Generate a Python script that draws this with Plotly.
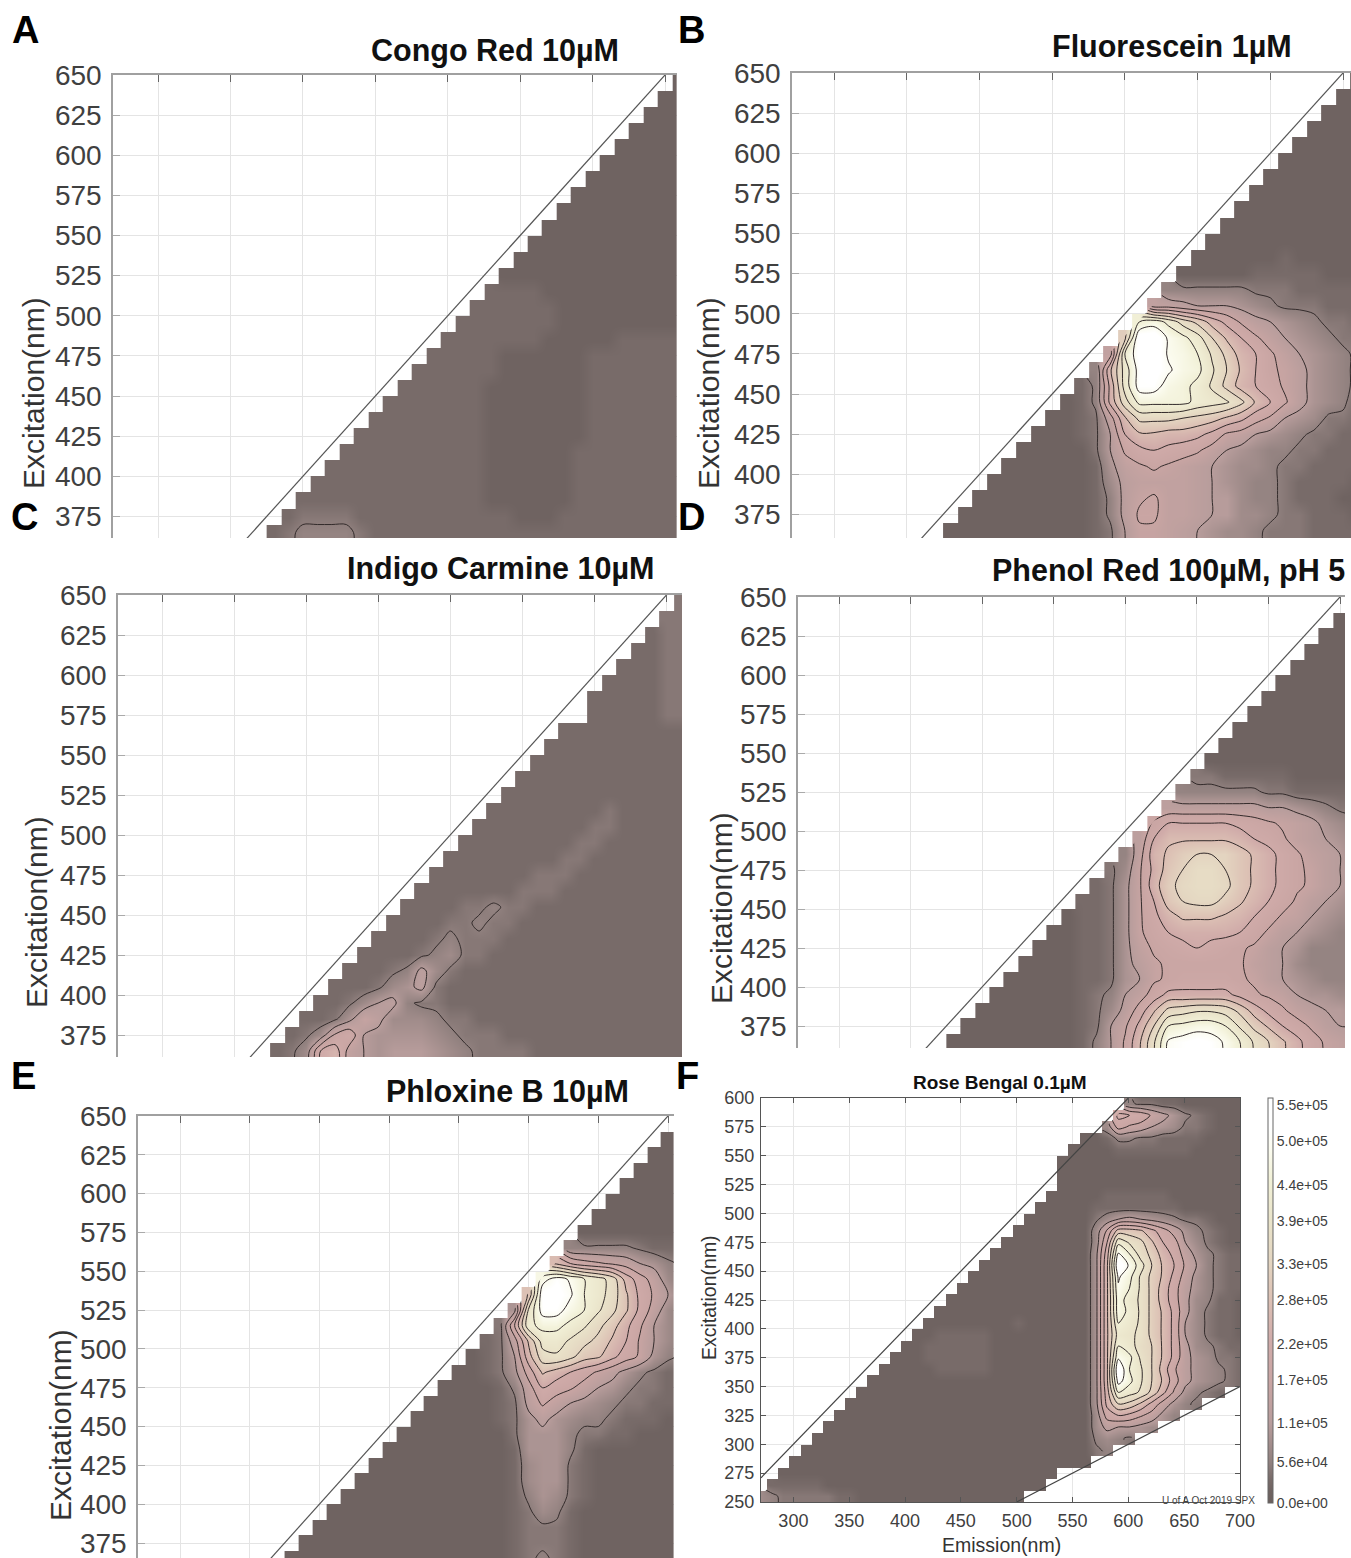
import plotly.graph_objects as go

W, H = 1351, 1558
UNIT = 5.5e5 / 35          # one base-36 digit of the tables below
ZMAX = 5.6e5

# Values are read off the picture as base-36 digits (0-z), "." = no data.
# Columns of panels A-E: emission 380..660 in 10 nm steps, rows right-aligned.
# Groups: 380-410 | 420-460 | 470-510 | 520-560 | 570-610 | 620-660
EM_AE = list(range(380, 670, 10))
EX_AE = list(range(645, 355, -10))

CONGO = ["1", "11", "111", "1111", "11111", "1 11111", "11 11111", "111 11111", "1111 11111", "11111 11111",
         "1 11111 11111", "11 11111 11111", "111 11111 11111", "2222 11111 11111", "22222 21111 11111",
         "2 22222 21111 11111", "22 22222 11111 22222", "222 22111 11122 22222", "2222 22111 11122 22222",
         "22222 21111 11122 22222", "2 22222 21111 11122 22222", "22 22222 21111 11122 22222",
         "222 22222 21111 11122 22222", "2222 22222 21111 11222 22222", "22222 22222 21111 11222 22222",
         "2 22222 22222 21111 11222 22222", "22 22222 22222 21111 11222 22222",
         "233 33222 22222 22211 12222 22222", "2344 44322 22222 22222 22222 22222"]

FLUOR = ["1", "11", "111", "1111", "11111", "1 11111", "11 11111", "111 11111", "1111 11111", "11111 11111",
         "1 11111 11111", "11 11112 11111", "111 11222 22111", "4444 44333 22222", "99877 76543 33222",
         "s urnkg da876 54332", "kz zvtql heb97 65433", "9sy zvuso kgeb9 76543", "4hqx ywutp lheba 86543",
         "24fqx xutro kgeca 86543", "1 24fnt tttrq pmheb 86542", "11 239hm mmlkj hfca7 65332",
         "111 237eh hggfd a9765 43322", "1111 137bd edcb9 76544 33222", "11111 1269a ba987 65543 32222",
         "1 11111 12589 99987 65443 22221", "11 11111 1248a b9987 75443 22211",
         "111 11111 1248b b9987 75543 32221", "1111 11111 1237a a9876 55433 32222"]

INDIGO = ["3", "33", "233", "2233", "22233", "2 22233", "22 22233", ".22 22233", "2222 22222", "22222 22222",
          "2 22222 22222", "22 22222 22222", "222 22222 22222", "2222 22223 22222", "22222 22233 22222",
          "2 22222 22332 22222", "22 22222 23322 22222", "222 22223 33222 22222", "2222 22233 32222 22222",
          "22223 33332 22222 22222", "2 22233 43322 22222 22222", "22 22343 33222 22222 22222",
          "222 23453 32222 22222 22222", "2223 48532 22222 22222 22222", "22235 68322 22222 22222 22222",
          "2 23578 43322 22222 22222 22222", "22 36a85 55433 22222 22222 22222",
          "235 bd766 66543 33222 22222 22222", "235e g9767 77654 33332 22222 22222"]
INDIGO[19] = "22223 34332 22222 22222"

PHENOL = ["1", "11", "111", "1111", "11111", "1 11111", "11 11111", "111 11111", "1111 11111", "11111 11111",
          "1 11111 11111", "33 22222 11111", "444 44433 22222", "8888 88877 65433", "beeee edcba 98654",
          "8 ehhhh hgedb 98765", "49 gikll ljhfd b9875", "35a fjlnn ljhfd ba876", "236a gkmnn mjhfd ba876",
          "2236a ejlmm kigec a8765", "1 2236a dgiii hgeca 97655", "11 2236a cefff feca8 76544",
          "111 22369 bcded cba87 64444", "1111 22368 abbbb bb987 54444", "11111 22367 abccc cba87 65444",
          "1 11111 23479 cffff fdba9 76655", "11 11111 2358c hmnoo nkgdb 98776",
          "111 11111 237af lstuu sokhe ca877", "1111 11111 247bh owxyx vsoli fca98"]

PHLOXINE = ["1", "11", "111", "1111", "11111", "1 11111", "11 11111", "111 11111", "4444 43222", "hecba 97643",
            "u xvsqn gc953", "iy ywsqn ida74", "6px xuspm id953", "3ert trpmj fb753", "239iq qomkh ea753",
            "1 237gn omjif ca643", "11 236ci geca8 64322", "111 1249e cb976 43322", "1111 1238b 97654 33222",
            "11111 12368 65443 22211", "1 11111 11366 64332 21111", "11 11111 11266 64211 11111",
            "111 11111 11256 63211 11111", "1111 11111 11256 63211 11111", "11111 11111 11246 53211 11111",
            "1 11111 11111 11235 42111 11111", "11 11111 11111 11233 32111 11111",
            "111 11111 11111 11233 32111 11111", "1111 11111 11111 11234 32111 11111"]

# Panel F: emission 271..701, excitation 605..255, rows right-aligned.
# Groups: 271-301 | 311-351 | 361-401 | 411-451 | 461-501 | 511-551 | 561-601 | 611-651 | 661-701
EM_F = list(range(271, 711, 10))
EX_F = list(range(605, 245, -10))
ROSE = ["11111 11111", "4 33221 11111", "fe da864 32111", "5ca 97653 32111", "11244 33222 21111",
        "1 11122 22222 11111", "11 11111 11111 11111", "11 11111 11111 11111", "11 11111 11111 11111",
        "111 11222 22211 11111", "1111 12222 22221 11111", "11111 13578 76543 32111",
        "1 11111 15bjj ifc96 43211", "11 11111 15ero miec7 53211", "111 11111 16gws nkgd9 64322",
        "1111 11111 16hzv qlhea 74322", "11111 11111 16hwt okhd9 64322", "1 11111 11111 16hvs okgc8 64322",
        "11 11111 11111 16huq okgc8 54221", "111 11111 11111 16hur okhd8 53221",
        "1111 11112 11111 16hsq okhd7 53221", "11222 22111 11111 16hqp okhd7 53221",
        "1 12222 22111 11111 16hsq nlhd8 54322", "11 12222 22111 11111 16hvt olhd8 65332",
        "111 11222 22111 11111 16hzs plgb8 65432", "1111 11111 11111 11111 16hxt plhc8 65432",
        "11111 11111 11111 11111 16gsq okfa6 432..", "1 11111 11111 11111 11111 16flk hd964 3....",
        "11 11111 11111 11111 11111 15ced b964. .....", "111 11111 11111 11111 11111 15877 65... .....",
        "1111 11111 11111 11111 11111 14543 ..... .....", "11111 11111 11111 11111 11111 134.. ..... .....",
        "1 11111 11111 11111 11111 11111 1.... ..... .....", "11 11111 11111 11111 11111 111.. ..... ..... .....",
        "222 22111 11111 11111 11111 11... ..... ..... .....",
        "5433 33322 11111 11111 11111 ..... ..... ..... ....."]

Y_TICKS_AE = list(range(375, 675, 25))
X_TICKS_AE = [300, 350, 400, 450, 500, 550, 600, 650]
Y_TICKS_F = list(range(250, 625, 25))
X_TICKS_F = [300, 350, 400, 450, 500, 550, 600, 650, 700]
CB_VALUES = [0, 5.6e4, 1.1e5, 1.7e5, 2.2e5, 2.8e5, 3.3e5, 3.9e5, 4.4e5, 5.0e5, 5.5e5]
CB_LABELS = ["0.0e+00", "5.6e+04", "1.1e+05", "1.7e+05", "2.2e+05", "2.8e+05", "3.3e+05", "3.9e+05", "4.4e+05", "5.0e+05", "5.5e+05"]

COLORSCALE = [[0, "#6b5f5d"], [0.03, "#6f6361"], [0.06, "#796c6a"], [0.1, "#90807e"], [0.2, "#b89d9c"],
              [0.3, "#c9a5a3"], [0.4, "#d0aba9"], [0.5, "#dcc0b4"], [0.6, "#e4d6c1"], [0.7, "#eae4ca"],
              [0.8, "#f2f1d8"], [0.87, "#fbfbee"], [0.93, "#ffffff"], [1, "#ffffff"]]


def decode(rows, ncols):
    out = []
    for r in rows:
        s = r.replace(" ", "")
        vals = [None if c == "." else int(c, 36) * UNIT for c in s]
        out.append([None] * (ncols - len(vals)) + vals)
    return out


def fx(px):
    return px / W


def fy(py):
    return 1 - py / H


fig = go.Figure()
layout = dict(width=W, height=H, autosize=False, margin=dict(l=0, r=0, t=0, b=0, autoexpand=False),
              paper_bgcolor="white", plot_bgcolor="white", showlegend=False,
              font=dict(family="Liberation Sans, Arial, sans-serif", color="#404040"))
ann = []

# name, title, title centre, table, left, right, top, bottom, x300px, x650px, y375px, letter, y-title
PANELS = [
    ("A", "Congo Red 10µM", (495, 50), CONGO, 113, 677, 75, 538, 158, 665, 516.5, (25, 30), (33, 393)),
    ("B", "Fluorescein 1µM", (1172, 47), FLUOR, 792, 1351, 73, 538, 834, 1343, 514.5, (691, 30), (708, 393)),
    ("C", "Indigo Carmine 10µM", (500, 568), INDIGO, 118, 682, 595, 1057, 162, 666.5, 1035, (24, 517), (36, 912)),
    ("D", "Phenol Red 100µM, pH 5", (1168, 570), PHENOL, 798, 1345, 597, 1048, 839, 1340, 1026, (691, 517), (721, 908)),
    ("E", "Phloxine B 10µM", (507, 1091), PHLOXINE, 138, 674, 1116, 1558, 180, 668, 1543, (23, 1076), (60, 1425)),
]

for i, (name, title, tc, table, l, r, t, b, x300, x650, y375, lab, yt) in enumerate(PANELS, start=1):
    sx = (x650 - x300) / 350
    sy = (y375 - t) / 275
    xr = [300 + (l - x300) / sx, 300 + (r - x300) / sx]
    yr = [650 - (b - t) / sy, 650]
    z = decode(table, len(EM_AE))
    z2 = z + [z[-1]]
    y2 = EX_AE + [355]
    sfx = "" if i == 1 else str(i)
    xa, ya = "x" + sfx, "y" + sfx
    fig.add_trace(go.Heatmap(x=EM_AE, y=y2, z=z2, xaxis=xa, yaxis=ya, zmin=0, zmax=ZMAX, zsmooth="best",
                             colorscale=COLORSCALE, showscale=False, hoverinfo="skip"))
    fig.add_trace(go.Contour(x=EM_AE, y=y2, z=z2, xaxis=xa, yaxis=ya, showscale=False, hoverinfo="skip",
                             contours=dict(coloring="none", start=5.5e4, end=5.0e5, size=5.5e4),
                             line=dict(color="#332b2b", width=1, smoothing=0.9)))
    fig.add_trace(go.Scatter(x=[300, 660], y=[300, 660], xaxis=xa, yaxis=ya, mode="lines",
                             line=dict(color="#555555", width=1.2), hoverinfo="skip"))
    layout["xaxis" + sfx] = dict(domain=[fx(l), fx(r)], range=xr, side="top", anchor=ya, tickvals=X_TICKS_AE,
                                 showticklabels=False, ticks="inside", ticklen=7, tickcolor="#666666",
                                 showgrid=True, gridcolor="#e4e4e4", gridwidth=1, zeroline=False,
                                 showline=True, linecolor="#a0a0a0", linewidth=2)
    layout["yaxis" + sfx] = dict(domain=[fy(b), fy(t)], range=yr, anchor=xa, tickvals=Y_TICKS_AE,
                                 ticks="inside", ticklen=7, tickcolor="#aaaaaa", ticklabelstandoff=4,
                                 ticklabeloverflow="allow", tickfont=dict(size=28, color="#404040"),
                                 showgrid=True, gridcolor="#e4e4e4", gridwidth=1, zeroline=False,
                                 showline=True, linecolor="#a0a0a0", linewidth=1.5)
    ann.append(dict(text="<b>%s</b>" % title, x=fx(tc[0]), y=fy(tc[1]), xref="paper", yref="paper", showarrow=False,
                    xanchor="center", yanchor="middle", font=dict(size=30.5, color="#111111")))
    ann.append(dict(text="<b>%s</b>" % name, x=fx(lab[0]), y=fy(lab[1]), xref="paper", yref="paper", showarrow=False,
                    xanchor="center", yanchor="middle", font=dict(size=38, color="#000000")))
    ann.append(dict(text="Excitation(nm)", x=fx(yt[0]), y=fy(yt[1]), xref="paper", yref="paper", showarrow=False,
                    textangle=-90, xanchor="center", yanchor="middle", font=dict(size=30, color="#333333")))

# Panel F
l, r, t, b = 761, 1240, 1098, 1502
zf = decode(ROSE, len(EM_F))
zf2 = zf + [zf[-1]]
yf2 = EX_F + [245]
fig.add_trace(go.Heatmap(x=EM_F, y=yf2, z=zf2, xaxis="x6", yaxis="y6", zmin=0, zmax=ZMAX, zsmooth="best",
                         colorscale=COLORSCALE, hoverinfo="skip", showscale=True,
                         colorbar=dict(x=fx(1268), xanchor="left", thickness=5, thicknessmode="pixels", xpad=0, ypad=0,
                                       y=fy(1503), yanchor="bottom", len=(1503 - 1098) / H, lenmode="fraction",
                                       tickvals=CB_VALUES, ticktext=CB_LABELS, ticks="", outlinecolor="#666666",
                                       outlinewidth=1, tickfont=dict(size=14, color="#404040"))))
fig.add_trace(go.Contour(x=EM_F, y=yf2, z=zf2, xaxis="x6", yaxis="y6", showscale=False, hoverinfo="skip",
                         contours=dict(coloring="none", start=5.5e4, end=5.0e5, size=5.5e4),
                         line=dict(color="#332b2b", width=1, smoothing=0.9)))
fig.add_trace(go.Scatter(x=[271, 600], y=[271, 600], xaxis="x6", yaxis="y6", mode="lines",
                         line=dict(color="#444444", width=1.2), hoverinfo="skip"))
fig.add_trace(go.Scatter(x=[500, 700], y=[250, 350], xaxis="x6", yaxis="y6", mode="lines",
                         line=dict(color="#444444", width=1.2), hoverinfo="skip"))
layout["xaxis6"] = dict(domain=[fx(l), fx(r)], range=[271, 700], anchor="y6", tickvals=X_TICKS_F, ticks="inside",
                        ticklen=5, tickcolor="#555555", tickfont=dict(size=18, color="#404040"), ticklabelstandoff=2,
                        mirror="ticks", showgrid=True, gridcolor="#e6e6e6", zeroline=False, showline=True,
                        linecolor="#555555", linewidth=1)
layout["yaxis6"] = dict(domain=[fy(b), fy(t)], range=[250, 600], anchor="x6", tickvals=Y_TICKS_F, ticks="inside",
                        ticklen=5, tickcolor="#555555", tickfont=dict(size=18, color="#404040"), ticklabelstandoff=2,
                        mirror="ticks", showgrid=True, gridcolor="#e6e6e6", zeroline=False, showline=True,
                        linecolor="#555555", linewidth=1)
for txt, x, y, size, angle, col, bold in [
    ("Rose Bengal 0.1µM", 1000, 1082, 19, 0, "#111111", True),
    ("F", 687, 1076, 38, 0, "#000000", True),
    ("Excitation(nm)", 709, 1298, 19.5, -90, "#333333", False),
    ("Emission(nm)", 1001, 1545, 19.5, 0, "#333333", False),
    ("U of A Oct 2019 SPX", 1208, 1500, 10, 0, "#444444", False),
]:
    ann.append(dict(text="<b>%s</b>" % txt if bold else txt, x=fx(x), y=fy(y), xref="paper", yref="paper",
                    showarrow=False, textangle=angle, xanchor="center", yanchor="middle",
                    font=dict(size=size, color=col)))

layout["annotations"] = ann
fig.update_layout(**layout)
fig.write_html("out.html", config={"displayModeBar": False},
               post_script="document.body.style.margin='0';document.body.style.overflow='hidden';")
